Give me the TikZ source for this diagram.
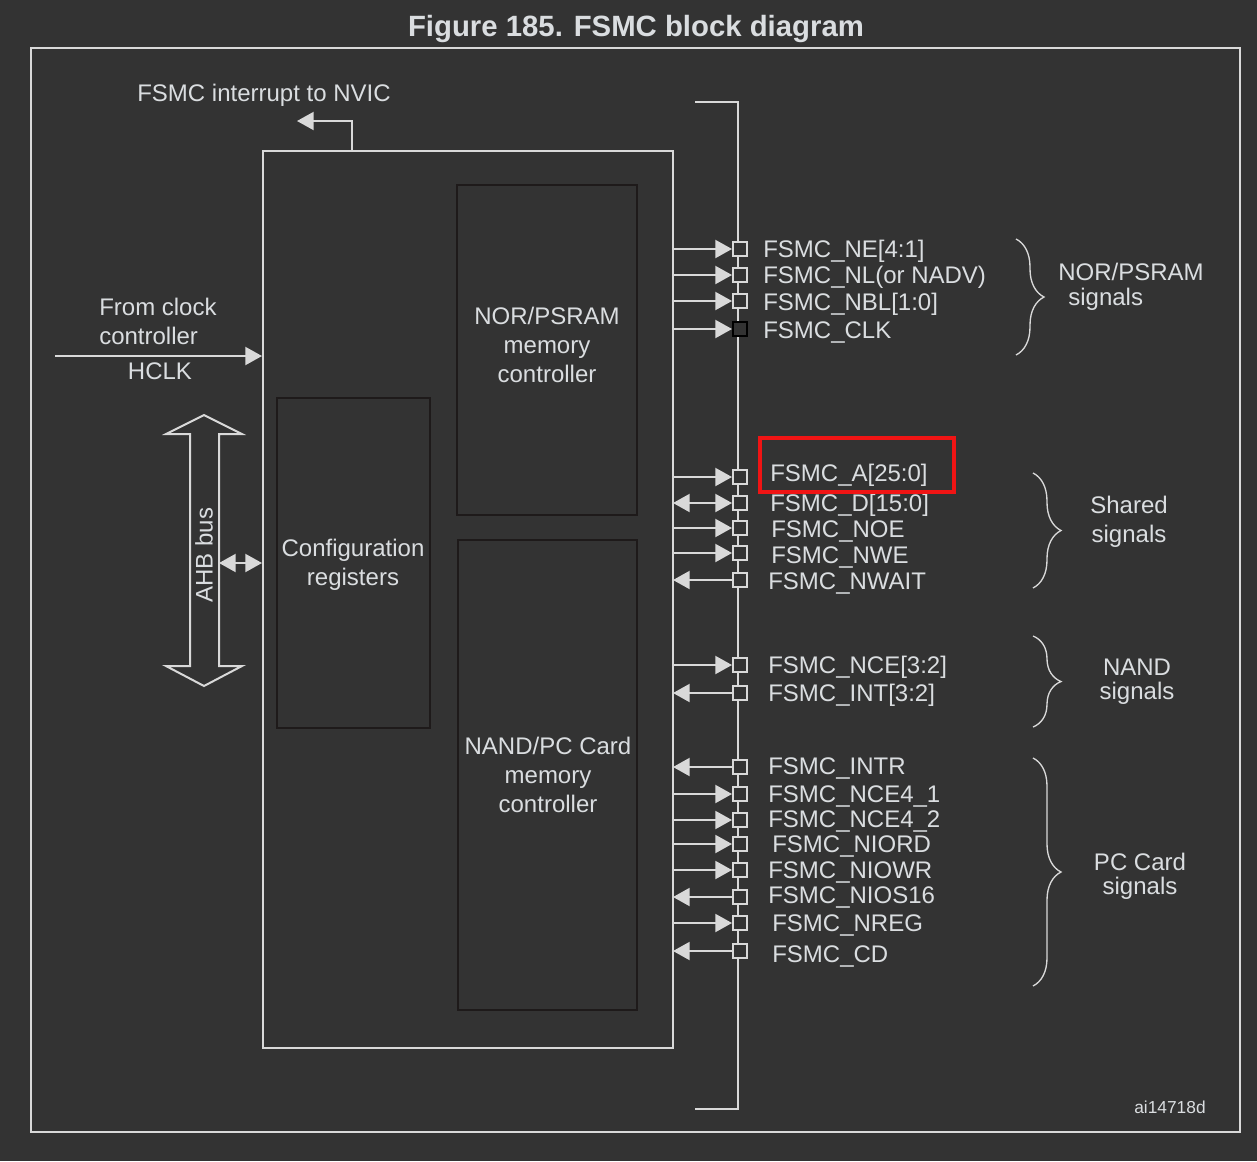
\documentclass[tikz,border=0pt]{standalone}
\usepackage{fontspec}
\setmainfont{Liberation Sans}
\usetikzlibrary{arrows.meta,positioning,calc,fit,decorations.pathreplacing}
\definecolor{fsbg}{HTML}{333333}
\definecolor{fsline}{HTML}{D9D9D9}
\definecolor{fstext}{HTML}{DADDE0}
\definecolor{fsdark}{HTML}{1E1A1A}
\definecolor{fsred}{HTML}{F01414}
\tikzset{
  blk/.style={draw=fsline, line width=1.5pt, inner sep=0pt},
  sub/.style={draw=fsdark, line width=2.2pt, inner sep=0pt},
  txt/.style={text=fstext, font=\fontsize{18}{21.75}\selectfont, inner sep=0pt},
  sig/.style={txt, anchor=base west},
  pad/.style={fill=fsbg, line width=1.5pt, minimum size=10.5pt, inner sep=0pt},
  ln/.style={draw=fsline, line width=1.5pt},
  tip/.tip={Triangle[length=12.5pt, width=13.5pt]},
  drv/.style={ln, -tip},
  rcv/.style={ln, tip-},
  bid/.style={ln, tip-tip},
  brc/.style={draw=fsline, line width=1pt, decorate, decoration={brace, amplitude=21pt, aspect=0.5}},
}
\begin{document}
\begin{tikzpicture}[x=0.75pt, y=-0.75pt]
  \fill[fsbg] (0,0) rectangle (1257,1161);
  \useasboundingbox (0,0) rectangle (1257,1161);
  \node[txt, font=\bfseries\fontsize{22}{26}\selectfont] (title) at (636,29) {Figure 185. FSMC block diagram};
  \node[blk, fit={(31,48) (1240,1132)}] (frame) {};

  % FSMC block and its controllers
  \node[blk, fit={(263,151) (673,1048)}] (fsmc) {};
  \node[sub, fit={(457,185) (637,515)}] (nor) {};
  \node[sub, fit={(458,540) (637,1010)}] (nand) {};
  \node[sub, fit={(277,398) (430,728)}] (cfg) {};
  \node[txt, align=center] (norl) at (547,345) {NOR/PSRAM\\memory\\controller};
  \node[txt, align=center] (nandl) at (548,775) {NAND/PC Card\\memory\\controller};
  \node[txt, align=center] (cfgl) at (353,565) {Configuration\\registers};

  % interrupt, clock, AHB
  \node[txt] (irql) at (264,95) {FSMC interrupt to NVIC};
  \coordinate (irqsrc) at (352,151);
  \coordinate (irq) at (297,121);
  \draw[drv] (irqsrc) |- (irq);
  \node[txt, anchor=west, align=left] (clkl) at (99,321) {From clock\\controller};
  \node[txt] (hclk) at (160,371) {HCLK};
  \coordinate (clk) at (55,356);
  \draw[drv] (clk) -- (clk -| fsmc.west);
  \draw[ln] (204,415) -- (242,434) -- (219,434) -- (219,666) -- (242,666) -- (204,686)
    -- (166,666) -- (190,666) -- (190,434) -- (166,434) -- cycle;
  \node[txt, rotate=90] (ahb) at (204,555) {AHB bus};
  \coordinate (ahbr) at (219,563);
  \draw[bid] (ahbr) -- (ahbr -| fsmc.west);

  % signal bus
  \coordinate (bt) at (695,102);
  \coordinate (bb) at (695,1109);
  \draw[ln] (bt) -| (738,1109) -- (bb);
  \foreach \n/\y/\ly/\lx/\lab/\kind/\pc in {
    ne/249/249/763/{FSMC\_NE[4:1]}/drv/fsline,
    nl/275/275/763/{FSMC\_NL(or NADV)}/drv/fsline,
    nbl/301/302/763/{FSMC\_NBL[1:0]}/drv/fsline,
    clk/329/330/763/{FSMC\_CLK}/drv/black,
    a/477/473/770/{FSMC\_A[25:0]}/drv/fsline,
    d/503/503/770/{FSMC\_D[15:0]}/bid/fsline,
    noe/528/529/771/{FSMC\_NOE}/drv/fsline,
    nwe/553/555/771/{FSMC\_NWE}/drv/fsline,
    nwait/580/581/768/{FSMC\_NWAIT}/rcv/fsline,
    nce/665/665/768/{FSMC\_NCE[3:2]}/drv/fsline,
    int/693/693/768/{FSMC\_INT[3:2]}/rcv/fsline,
    intr/767/766/768/{FSMC\_INTR}/rcv/fsline,
    nceone/794/794/768/{FSMC\_NCE4\_1}/drv/fsline,
    ncetwo/820/819/768/{FSMC\_NCE4\_2}/drv/fsline,
    niord/844/844/772/{FSMC\_NIORD}/drv/fsline,
    niowr/870/870/768/{FSMC\_NIOWR}/drv/fsline,
    nios/897/895/768/{FSMC\_NIOS16}/rcv/fsline,
    nreg/923/923/772/{FSMC\_NREG}/drv/fsline,
    cd/951/954/772/{FSMC\_CD}/rcv/fsline}
  {
    \node[pad, draw=\pc] (p\n) at (740,\y) {};
    \coordinate (c\n) at (673,\y);
    \draw[\kind] (c\n) -- (p\n.west);
    \node[sig] (l\n) at (\lx,\ly+8.5) {\lab};
  }
  \node[draw=fsred, line width=2.5pt, inner sep=0pt, fit={(760,438) (954,492)}] (hl) {};

  % signal groups
  \foreach \x/\ya/\yb in {1016/239/355, 1033/473/588, 1033/636/727, 1033/758/986}
    \draw[brc] (\x,\ya) -- (\x,\yb);
  \node[txt, align=left, font=\fontsize{18}{18.75}\selectfont] (gnor) at (1131,287) {NOR/PSRAM\\\hspace*{7.5pt}signals};
  \node[txt, align=center] (gsh) at (1129,522) {Shared\\signals};
  \node[txt, align=center, font=\fontsize{18}{18}\selectfont] (gnand) at (1137,682) {NAND\\signals};
  \node[txt, align=center, font=\fontsize{18}{18}\selectfont] (gpc) at (1140,876) {PC Card\\signals};
  \node[txt, font=\fontsize{13}{15}\selectfont] (ai) at (1170,1107) {ai14718d};
\end{tikzpicture}
\end{document}
